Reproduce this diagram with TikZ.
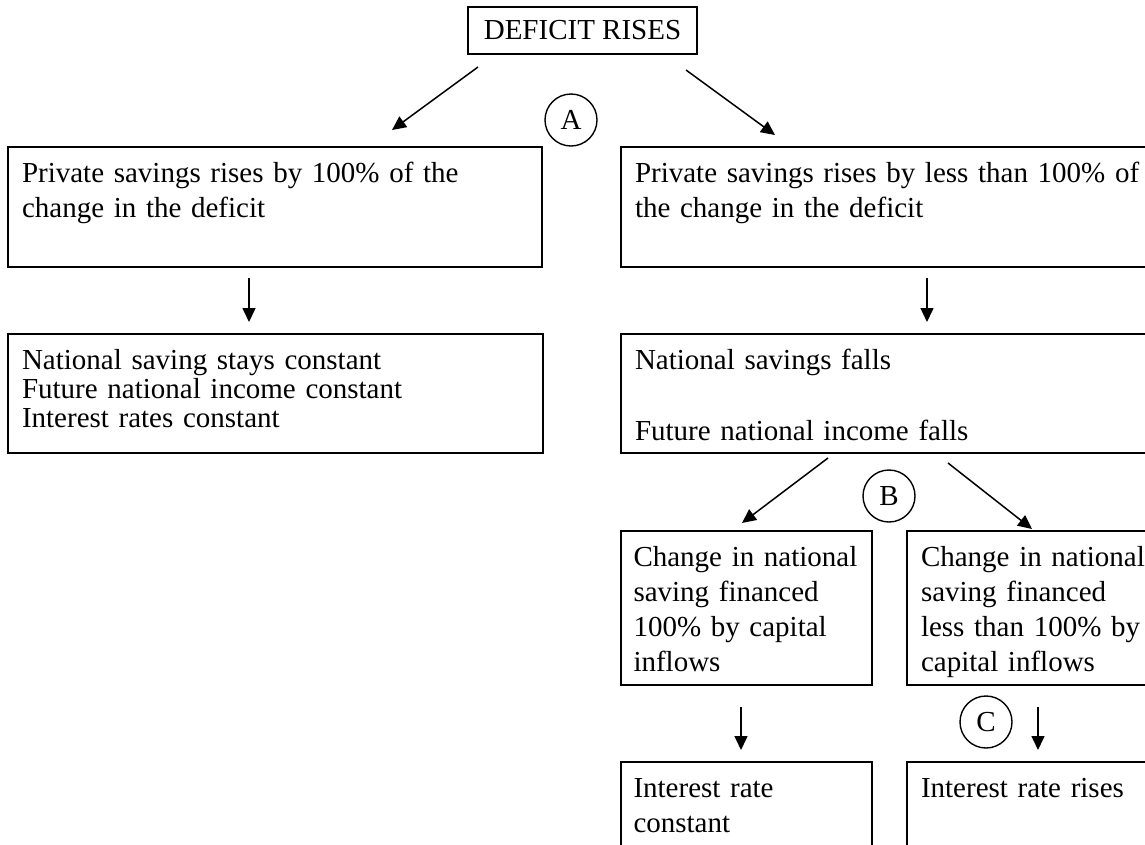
\documentclass[tikz,border=0pt]{standalone}
\usepackage{fontspec}
\setmainfont{Liberation Serif}
\usetikzlibrary{arrows.meta}
\usetikzlibrary{calc}

\begin{document}
\begin{tikzpicture}
	[
	x=1pt, y=-1pt,
	> = {Triangle[length=14pt,width=13pt]},
	every node/.style = {font=\fontsize{29}{35}\selectfont, outer sep=0pt},
	box/.style = {draw, line width=2.2pt, anchor=north west, align=left, inner xsep=14pt, inner ysep=12pt, text height=23pt, execute at begin node={\hyphenpenalty=10000}},
	tag/.style = {draw, circle, line width=1.4pt, minimum size=52pt, inner sep=0pt},
	link/.style = {->, line width=1.5pt}
	]
	\useasboundingbox (0,0) rectangle (1145,844);
	\node[draw, line width=2.2pt, minimum width=229pt, minimum height=47pt, inner sep=0pt] (deficit) at (582.5,30.5) {DEFICIT RISES};
	\node[box, text width=506pt, text depth=73pt] (privfull) at (8,147) {Private savings rises by 100\% of the\\change in the deficit};
	\node[box, text width=511pt, text depth=73pt] (privless) at (621,147) {Private savings rises by less than 100\% of\\the change in the deficit};
	\node[box, text width=507pt, text depth=72pt, font=\fontsize{29}{29}\selectfont] (natconst) at (8,334) {National saving stays constant\\Future national income constant\\Interest rates constant};
	\node[box, text width=511pt, text depth=72pt] (natfalls) at (621,334) {National savings falls\\[36pt]Future national income falls};
	\node[box, inner xsep=12.5pt, text width=226pt, text depth=107pt] (capfull) at (621,531) {Change in national\\saving financed\\100\% by capital\\inflows};
	\node[box, text width=225pt, text depth=107pt] (cappart) at (907,531) {Change in national\\saving financed\\less than 100\% by\\capital inflows};
	\node[box, inner xsep=12.5pt, text width=226pt, text depth=71pt] (rateflat) at (621,762) {Interest rate\\constant};
	\node[box, text width=225pt, text depth=71pt] (raterise) at (907,762) {Interest rate rises};
	\node[tag] (tagA) at (571,120) {A};
	\node[tag] (tagB) at (889,496) {B};
	\node[tag] (tagC) at (986,722) {C};
	\draw[link] ($(deficit.south west)+(10,13)$) -- ($(privfull.north west)+(384,-17)$);
	\draw[link] ($(deficit.south east)+(-11,16)$) -- ($(privless.north west)+(154,-12)$);
	\draw[link] ($(privfull.south west)+(241,11)$) -- ($(natconst.north west)+(241,-12)$);
	\draw[link] ($(privless.south west)+(306,11)$) -- ($(natfalls.north west)+(306,-12)$);
	\draw[link] ($(natfalls.south west)+(207,5)$) -- ($(capfull.north west)+(121,-8)$);
	\draw[link] ($(natfalls.south west)+(327,10)$) -- ($(cappart.north west)+(125,-2)$);
	\draw[link] ($(capfull.south west)+(120,22)$) -- ($(rateflat.north west)+(120,-12)$);
	\draw[link] ($(cappart.south west)+(131,22)$) -- ($(raterise.north west)+(131,-12)$);
\end{tikzpicture}
\end{document}
